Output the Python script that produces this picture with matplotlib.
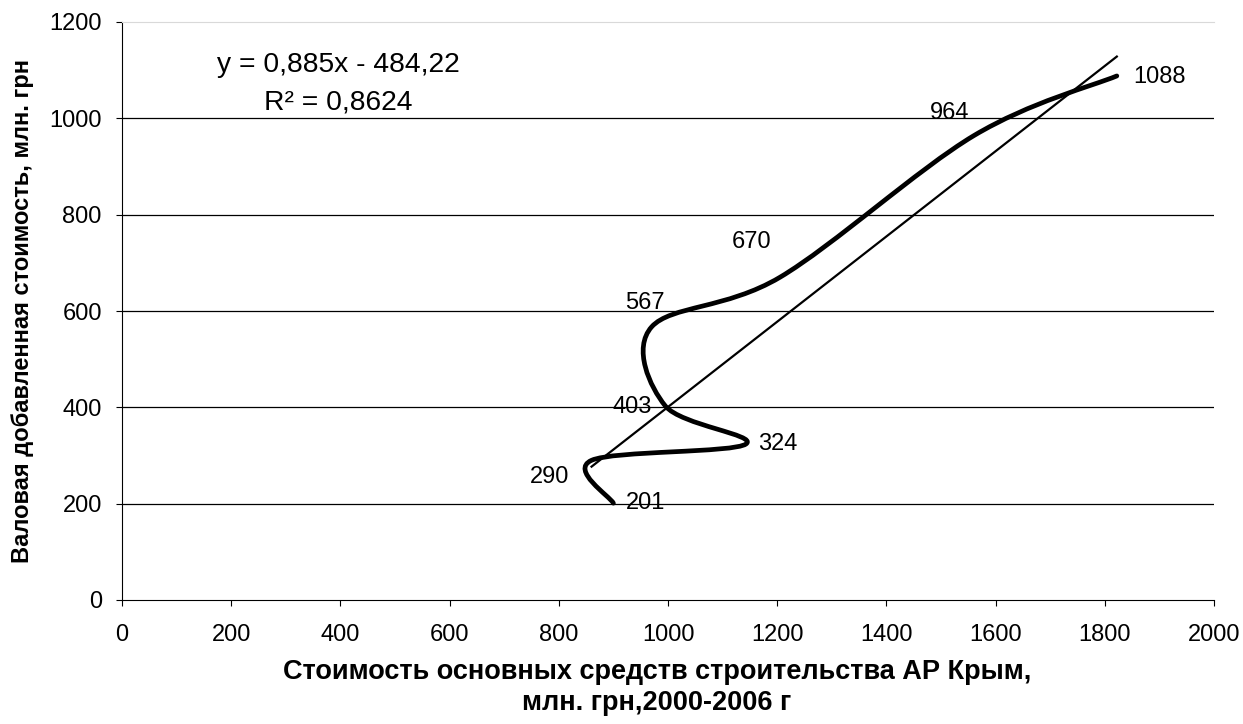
import matplotlib.pyplot as plt
from matplotlib.path import Path
from matplotlib.patches import PathPatch
import numpy as np

plt.rcParams['font.family'] = ['Liberation Sans', 'DejaVu Sans']

# данные: стоимость основных средств (x) и валовая добавленная стоимость (y)
fixed_assets = [900, 860, 1143, 995, 970, 1205, 1560, 1822]
value_added = [201, 290, 324, 403, 567, 670, 964, 1088]
point_labels = ['201', '290', '324', '403', '567', '670', '964', '1088']

# линейный тренд из Excel
trend_slope = 0.885
trend_intercept = -484.22
equation_text = 'y = 0,885x - 484,22'
r2_text = 'R² = 0,8624'

x_ticks = [0, 200, 400, 600, 800, 1000, 1200, 1400, 1600, 1800, 2000]
y_ticks = [0, 200, 400, 600, 800, 1000, 1200]

# смещения подписей (пиксели) и выравнивание
label_offsets = [(12, 0), (-22, -17), (12, 0), (-13, -1), (-7, 24), (-28, 35), (-24, 23), (16, -1)]
label_ha = ['left', 'right', 'left', 'right', 'center', 'center', 'center', 'left']

fig = plt.figure(figsize=(12.43, 7.24), dpi=100)
ax = fig.add_axes([122 / 1243, 124 / 724, 1092 / 1243, 578 / 724])

# сглаженная линия как в Excel (Catmull-Rom -> Безье)
pts = np.column_stack([fixed_assets, value_added]).astype(float)
n = len(pts)
verts = [pts[0]]
codes = [Path.MOVETO]
for i in range(n - 1):
    p0 = pts[i - 1] if i > 0 else pts[i]
    p1 = pts[i]
    p2 = pts[i + 1]
    p3 = pts[i + 2] if i + 2 < n else pts[i + 1]
    c1 = p1 + (p2 - p0) / 6
    c2 = p2 - (p3 - p1) / 6
    verts += [c1, c2, p2]
    codes += [Path.CURVE4] * 3
curve = PathPatch(Path(verts, codes), fill=False, edgecolor='black', linewidth=3.4,
                  capstyle='round', joinstyle='round', zorder=4)
ax.add_patch(curve)

# линия тренда
tx = np.array([min(fixed_assets), max(fixed_assets)])
ax.plot(tx, trend_slope * tx + trend_intercept, color='black', linewidth=1.6, zorder=3)

for xv, yv, lab, off, ha in zip(fixed_assets, value_added, point_labels, label_offsets, label_ha):
    ax.annotate(lab, (xv, yv), xytext=off, textcoords='offset pixels',
                ha=ha, va='center', fontsize=17, zorder=5)

ax.text(0.198, 0.926, equation_text, transform=ax.transAxes, ha='center', va='center', fontsize=20.3)
ax.text(0.198, 0.860, r2_text, transform=ax.transAxes, ha='center', va='center', fontsize=20.3)

ax.set_xlim(0, 2000)
ax.set_ylim(0, 1200)
ax.set_xticks(x_ticks)
ax.set_yticks(y_ticks)
ax.tick_params(axis='both', labelsize=17, direction='out', length=4.5, width=0.8, color='black')
ax.tick_params(axis='x', pad=13)
ax.tick_params(axis='y', pad=10)

ax.yaxis.grid(True, color='black', linewidth=0.9)
ax.set_axisbelow(True)
for gl, t in zip(ax.get_ygridlines(), y_ticks):
    if t in (0, 1200):
        gl.set_visible(False)

ax.spines['right'].set_visible(False)
ax.spines['top'].set_color('#d9d9d9')
ax.spines['left'].set_color('black')
ax.spines['bottom'].set_color('black')

ax.set_xlabel('Стоимость основных средств строительства АР Крым,\nмлн. грн,2000-2006 г',
              fontsize=19.5, fontweight='bold', labelpad=9, linespacing=1.25)
ax.xaxis.label.set_x(0.49)
ax.set_ylabel('Валовая добавленная стоимость, млн. грн', fontsize=17, fontweight='bold', labelpad=11)

fig.savefig('out.png', dpi=100)
